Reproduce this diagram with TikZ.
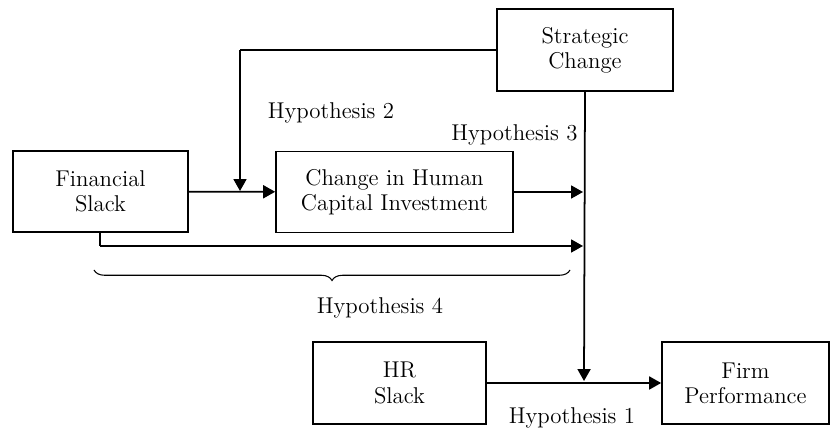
\documentclass[tikz,border=0pt]{standalone}
\usepackage{tikz}
\usetikzlibrary{positioning,calc,arrows.meta,decorations.pathreplacing}
\tikzset{
   every path/.style={>={Triangle[length=6.8pt,width=7.4pt]}},
   box/.style={draw,line width=1pt,align=center,inner sep=2pt,
      font=\fontsize{13}{14.4}\selectfont},
   lnk/.style={->,line width=1pt},
   ln/.style={-,line width=1pt},
   hyp/.style={font=\fontsize{13}{14.4}\selectfont,inner sep=0pt},
   brc/.style={decorate,decoration={brace,mirror,amplitude=6pt},line width=0.6pt},
}

\begin{document}
\begin{tikzpicture}[x=0.02cm,y=-0.02cm]
      \useasboundingbox (0,0) rectangle (831,431);
      % boxes
      \node[box,minimum width=3.5cm,minimum height=1.62cm] (fs) at (100.5,191.5) {Financial\\Slack};
      \node[box,minimum width=4.74cm,minimum height=1.62cm] (chc) at (394.5,192) {Change in Human\\Capital Investment};
      \node[box,minimum width=3.52cm,minimum height=1.64cm] (sc) at (585,50) {Strategic\\Change};
      \node[box,minimum width=3.46cm,minimum height=1.64cm] (hrs) at (399.5,383) {HR\\Slack};
      \node[box,minimum width=3.34cm,minimum height=1.64cm] (fp) at (745.5,383) {Firm\\Performance};
      % junctions
      \coordinate (j1) at (584,381);
      \coordinate (j2) at (240,191);
      \coordinate (j3) at (583,192);
      \coordinate (j4) at (583,246);
      \coordinate (c1) at (240,50);
      \coordinate (c2) at (100,246);
      % links
      \draw[lnk] (fs) -- (chc);
      \draw[lnk] (chc) -- (j3);
      \draw[lnk] (hrs) -- (fp);
      \draw[lnk] (sc.south) -- (j1);
      \draw[ln] (sc.west) -- (c1);
      \draw[lnk] (c1) -- (j2);
      \draw[ln] (fs.south -| c2) -- (c2);
      \draw[lnk] (c2) -- (j4);
      % brace
      \coordinate (b1) at (94,270);
      \coordinate (b2) at (570,270);
      \draw[brc] (b1) -- (b2);
      % labels
      \node[hyp] (h1) at (572,418) {Hypothesis 1};
      \node[hyp] (h2) at (331,113) {Hypothesis 2};
      \node[hyp,anchor=east] (h3) at (578,135) {Hypothesis 3};
      \node[hyp] (h4) at (380,308) {Hypothesis 4};
\end{tikzpicture}
\end{document}
